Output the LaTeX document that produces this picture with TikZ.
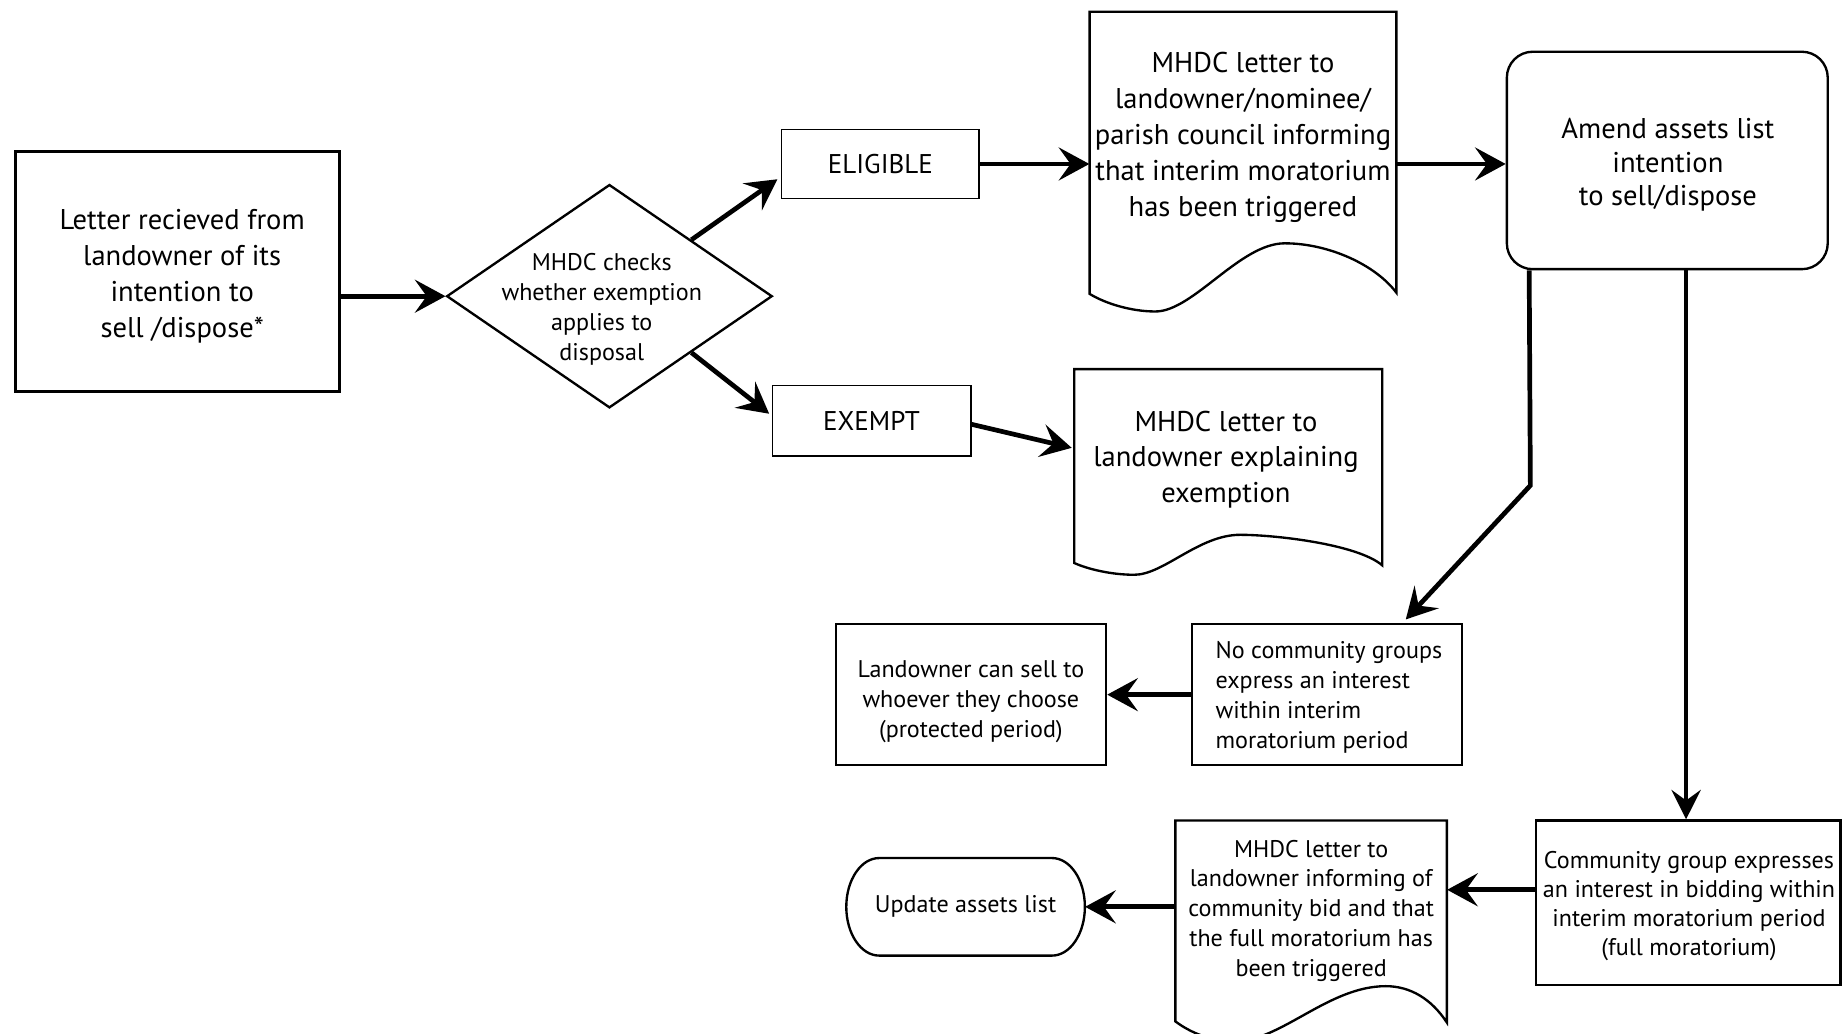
\documentclass[tikz,border=0pt]{standalone}
\usepackage{fontspec}
\setmainfont{PT Sans}
\usetikzlibrary{arrows.meta,shapes.geometric,calc}
\newcommand\fbig{\fontsize{24.3}{30.5}\selectfont}
\newcommand\fmed{\fontsize{20.5}{25.5}\selectfont}
\begin{document}
\begin{tikzpicture}[x=1pt,y=-1pt,
  box/.style={draw, rectangle, line width=2pt, align=center, inner sep=0pt, font=\fmed},
  thinbox/.style={draw, rectangle, line width=1.2pt, align=center, inner sep=0pt, font=\fontsize{23}{30}\selectfont},
  doctext/.style={align=center, inner sep=0pt},
  docline/.style={line width=2pt, line join=miter},
  arr/.style={line width=4pt, -{Stealth[length=26pt,width=28pt,inset=10pt]}},
  arrthin/.style={line width=3pt, -{Stealth[length=25pt,width=25pt,inset=9pt]}}
]
\useasboundingbox (0,0) rectangle (1568,879);

% boxes
\node[box, line width=3pt, minimum width=276pt, minimum height=204pt] (letter) at (151,231) {};
\node[doctext, font=\fbig] (lettert) at (155,235)
  {Letter recieved from\\landowner of its\\intention to\\sell /dispose*};
\node[draw, diamond, line width=2pt, minimum width=277pt, minimum height=190pt, inner sep=0pt] (dia) at (518.5,252) {};
\node[doctext, font=\fmed] (diat) at (512,263) {MHDC checks\\whether exemption\\applies to\\disposal};
\node[thinbox, minimum width=168pt, minimum height=59pt] (elig) at (749,139.5) {ELIGIBLE};
\node[thinbox, minimum width=169pt, minimum height=60pt] (exempt) at (741.5,358) {EXEMPT};

% document outlines
\draw[docline] (927,10) -- (1188,10) -- (1188,249)
  .. controls (1170,225) and (1130,207) .. (1093,207)
  .. controls (1055,207) and (1015,265) .. (983,265)
  .. controls (962,265) and (940,258) .. (927,250) -- cycle;
\draw[docline] (914,314) -- (1176,314) -- (1176,481)
  .. controls (1155,463) and (1085,455) .. (1055,455)
  .. controls (1020,455) and (990,489) .. (965,489)
  .. controls (945,489) and (925,484) .. (914,479) -- cycle;
\draw[docline] (1000,698) -- (1231,698) -- (1231,870)
  .. controls (1218,850) and (1200,839) .. (1179,839)
  .. controls (1130,839) and (1090,886) .. (1050,886)
  .. controls (1030,886) and (1012,878) .. (1000,869) -- cycle;

\node[doctext, minimum width=261pt, font=\fbig] (doc1) at (1057.5,117)
  {MHDC letter to\\landowner/nominee/\\parish council informing\\that interim moratorium\\has been triggered};
\node[doctext, minimum width=262pt, font=\fbig] (doc2) at (1043,391)
  {MHDC letter to\\landowner explaining\\exemption};
\node[doctext, minimum width=231pt, font=\fmed] (doc3) at (1115.5,775)
  {MHDC letter to\\landowner informing of\\community bid and that\\the full moratorium has\\been triggered};

\node[box, rounded corners=22pt, minimum width=273pt, minimum height=185pt] (amend) at (1418.5,136.5) {};
\node[doctext, font=\fontsize{24.3}{28.5}\selectfont] (amendt) at (1419,140.5)
  {Amend assets list\\intention\\to sell/dispose};

\node[box, minimum width=230pt, minimum height=120pt] (land) at (826,591) {};
\node[doctext, font=\fmed] (landt) at (826,597)
  {Landowner can sell to\\whoever they choose\\(protected period)};
\node[box, minimum width=230pt, minimum height=120pt] (nocomm) at (1129,591) {};
\node[doctext, font=\fmed, align=left, anchor=west] (nocommt) at (1034,593)
  {No community groups\\express an interest\\within interim\\moratorium period};
\node[box, minimum width=259pt, minimum height=140pt] (comm) at (1436.5,768) {};
\node[doctext, font=\fontsize{20.5}{24.5}\selectfont] (commt) at (1437,771)
  {Community group expresses\\an interest in bidding within\\interim moratorium period\\(full moratorium)};

% terminal (stadium with elliptical ends)
\node[doctext, font=\fmed, minimum width=203pt, minimum height=83pt] (update) at (821.5,771.5)
  {Update assets list};
\draw[line width=2pt] (748,730) -- (895,730)
  arc[start angle=90, end angle=-90, x radius=28pt, y radius=41.5pt]
  -- (748,813)
  arc[start angle=270, end angle=90, x radius=28pt, y radius=41.5pt] -- cycle;

% connectors
\coordinate (g0) at ($(amend.south west)+(20,0)$);
\coordinate (g1) at (1302,413);
\draw[arr] (letter.east |- dia.west) -- (dia.west);
\draw[arr] (dia.north east) -- ([xshift=-3pt,yshift=-13pt]elig.west);
\draw[arr] (dia.south east) -- ([xshift=-2pt,yshift=6pt]exempt.west);
\draw[arr] (elig.east) -- (elig.east -| doc1.west);
\draw[arr] ([yshift=-3pt]exempt.east) -- ([yshift=10pt]doc2.west);
\draw[arr] (elig.east -| doc1.east) -- (elig.east -| amend.west);
\draw[arr, line join=miter] (g0) -- (g1) -- ([xshift=67pt,yshift=3pt]nocomm.north);
\draw[arrthin] ([xshift=-2pt]comm.north |- amend.south) -- ([xshift=-2pt]comm.north);
\draw[arr] (nocomm.west) -- (land.east);
\draw[arr] ([yshift=11pt]comm.west) -- ([yshift=11pt]comm.west -| doc3.east);
\draw[arr] (update.east -| doc3.west) -- (update.east);
\end{tikzpicture}
\end{document}
